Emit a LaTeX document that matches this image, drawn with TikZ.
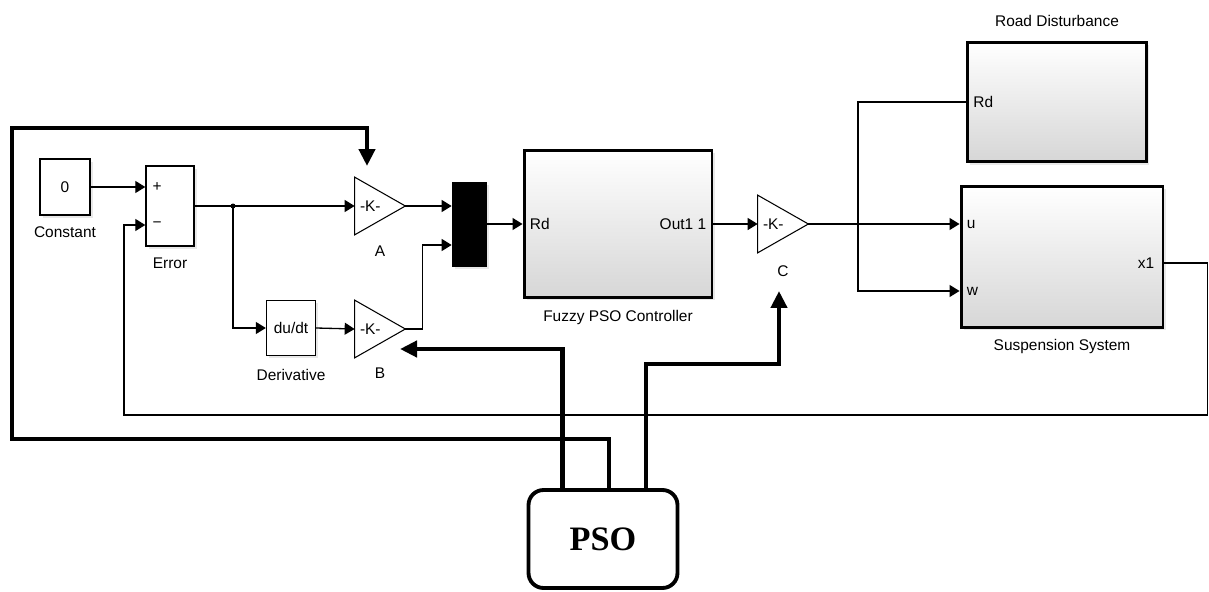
\documentclass[tikz,border=0pt]{standalone}
\usepackage{fontspec}
\setmainfont{Liberation Sans}
\newfontfamily\psofont{Liberation Serif}
\usepackage{tikz}
\usetikzlibrary{arrows.meta,positioning,shadows,calc}

\begin{document}
\begin{tikzpicture}[
    x=0.02cm, y=-0.02cm,
    font=\fontsize{8.8}{10}\selectfont,
    softshadow/.style={drop shadow={shadow xshift=1.6pt, shadow yshift=-1.6pt, opacity=0.18}},
    block/.style={draw, line width=0.8pt, fill=white, softshadow},
    subsys/.style={draw, line width=1.7pt, top color=white, bottom color=black!16, softshadow},
    gain/.style={inner xsep=0.1cm, inner ysep=0pt, text width=0.8cm, align=left, minimum height=1.14cm},
    blockname/.style={inner sep=0pt},
    port/.style={inner xsep=0.14cm, inner ysep=0pt},
    sig/.style={line width=0.75pt, -{Triangle[length=0.2cm, width=0.24cm]}},
    tune/.style={line width=2.4pt, -{Triangle[length=0.34cm, width=0.32cm]}}
]
\useasboundingbox (0,0) rectangle (1209,591);

% blocks
\node[block, minimum width=1cm, minimum height=1.12cm] (Const) at (65,187) {0};
\node[block, minimum width=0.96cm, minimum height=1.6cm] (Err) at (170,206) {};
\node[block, minimum width=0.98cm, minimum height=1.1cm] (Der) at (291,328) {du/dt};
\node[gain] (A) at (380,206) {-K-};
\node[gain] (B) at (380,329) {-K-};
\node[draw, fill=black, minimum width=0.68cm, minimum height=1.68cm, softshadow] (Mux) at (469,224) {};
\node[subsys, minimum width=3.76cm, minimum height=2.94cm] (Fz) at (618,224) {};
\node[gain] (C) at (783,224) {-K-};
\node[subsys, minimum width=3.58cm, minimum height=2.4cm] (Road) at (1057,102) {};
\node[subsys, minimum width=4.04cm, minimum height=2.82cm] (Susp) at (1062,257) {};
\node[draw, line width=2.2pt, rounded corners=0.3cm, minimum width=2.98cm, minimum height=1.96cm,
      font=\psofont\bfseries\fontsize{19.5}{22}\selectfont] (PSO) at (603,539) {PSO};

\foreach \g in {A,B,C}
    \draw[line width=0.6pt] (\g.north west) -- (\g.east) -- (\g.south west) -- cycle;

% names
\node[blockname, below=0.22cm of Const] (ConstName) {Constant};
\node[blockname, below=0.22cm of Err] (ErrName) {Error};
\node[blockname, below=0.26cm of Der] (DerName) {Derivative};
\node[blockname, below=0.22cm of A] (AName) {A};
\node[blockname, below=0.2cm of B] (BName) {B};
\node[blockname, below=0.22cm of Fz] (FzName) {Fuzzy PSO Controller};
\node[blockname, below=0.26cm of C] (CName) {C};
\node[blockname, above=0.28cm of Road] (RoadName) {Road Disturbance};
\node[blockname, below=0.2cm of Susp] (SuspName) {Suspension System};

% ports
\node[port, anchor=west] (ErrPlus) at (Err.west |- Const.east) {+};
\node[port, anchor=west] (ErrMinus) at ([yshift=-0.38cm]Err.west) {−};
\node[port, anchor=west] (FzIn) at (Fz.west) {Rd};
\node[port, anchor=east] (FzOut) at (Fz.east) {Out1 1};
\node[port, anchor=west] (RoadRd) at (Road.west) {Rd};
\node[port, anchor=west] (SuspU) at (Susp.west |- C.east) {u};
\node[port, anchor=west] (SuspW) at ([yshift=-0.68cm]Susp.west) {w};
\node[port, anchor=east, inner xsep=0.2cm] (SuspX) at ([yshift=-0.12cm]Susp.east) {x1};

\coordinate (split) at (233,206);
\coordinate (fbL) at (124,415);
\coordinate (Atip) at (367,166);
\coordinate (Btip) at (400,349);
\coordinate (Ctip) at (779,291);

% signals
\draw[sig] (Const.east) -- (ErrPlus.west);
\draw[sig] (Err.east) -- (A.west);
\fill (split) circle[radius=0.05cm];
\draw[sig] (split) |- (Der.west);
\draw[sig] (Der.east) -- (B.west);
\draw[sig] (A.east) -- (Mux.west |- A.east);
\draw[sig] (B.east) -- ++(17,0) |- ([yshift=-0.42cm]Mux.west);
\draw[sig] (Mux.east) -- (FzIn.west);
\draw[sig] (FzOut.east) -- (C.west);
\draw[sig] (C.east) -- (SuspU.west);
\draw[sig] (RoadRd.west) -- ++(-108,0) |- (SuspW.west);
\draw[sig] (Susp.east |- SuspX.east) -- ++(43,0) |- (fbL) |- (ErrMinus.west);

% PSO tuning
\draw[tune] ($(PSO.north west)!0.235!(PSO.north east)$) |- (Btip);
\draw[tune] ($(PSO.north west)!0.537!(PSO.north east)$) |- (12,439) |- (367,128) -- (Atip);
\draw[tune] ($(PSO.north west)!0.779!(PSO.north east)$) |- (779,364) -- (Ctip);
\end{tikzpicture}
\end{document}
